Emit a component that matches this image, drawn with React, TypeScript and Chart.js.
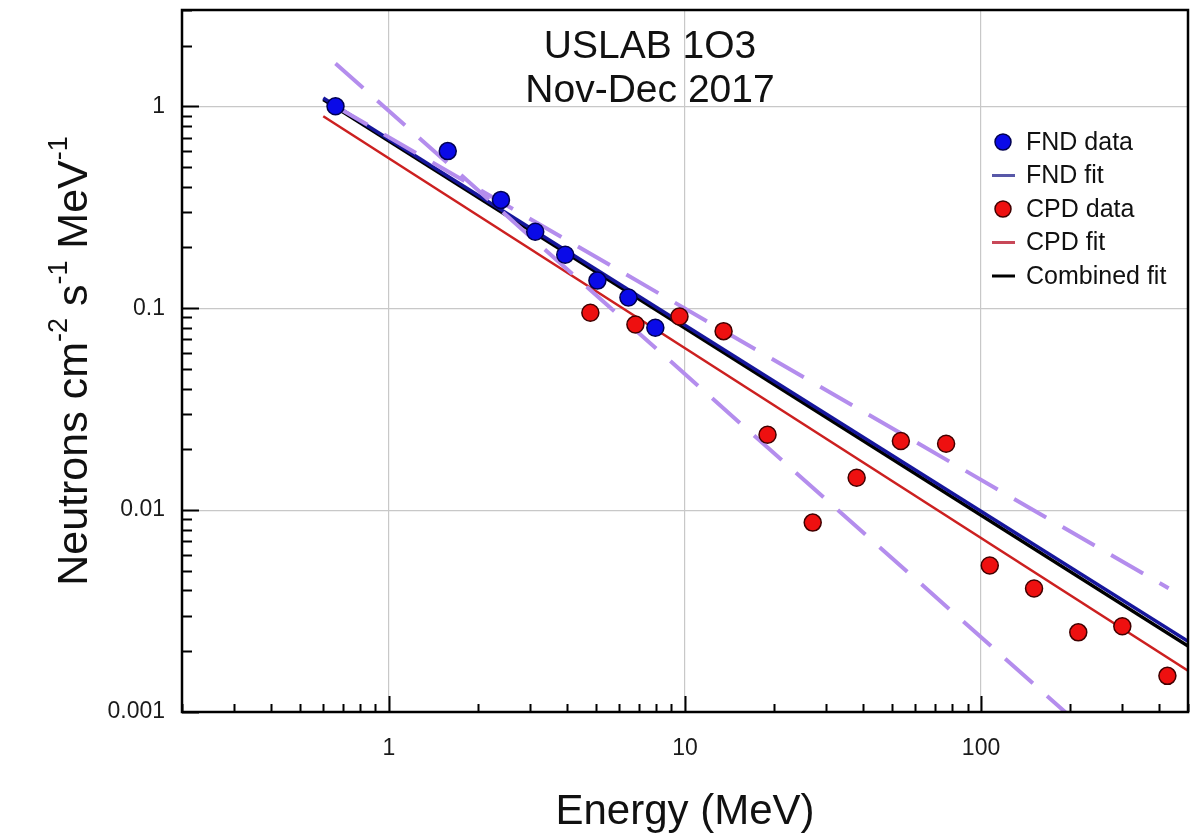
import React, { useEffect, useRef } from "react";
import { Chart, registerables } from "chart.js";

Chart.register(...registerables);

// ---- data ----
const fndEnergy = [0.66, 1.58, 2.39, 3.12, 3.94, 5.06, 6.44, 7.94];
const fndFlux = [1.0, 0.6, 0.344, 0.239, 0.184, 0.137, 0.113, 0.08];

const cpdEnergy = [4.79, 6.8, 9.58, 13.5, 19.0, 27.0, 38.0, 53.6, 76.2, 107, 151, 213, 300, 426];
const cpdFlux = [0.095, 0.083, 0.091, 0.077, 0.0236, 0.00867, 0.01445, 0.022, 0.0213, 0.00532, 0.00409, 0.00248, 0.00266, 0.00151];

const fitEnergy = [0.6, 500];
const fndFit = [1.1, 0.00224];
const cpdFit = [0.893, 0.0016];
const combinedFit = [1.08, 0.00212];

const upperBoundEnergy = [0.66, 430];
const upperBound = [1.0, 0.0041];
const lowerBoundEnergy = [0.66, 200];
const lowerBound = [1.63, 0.00095];

const xTickValues = [0.2, 0.3, 0.4, 0.5, 0.6, 0.7, 0.8, 0.9, 1, 2, 3, 4, 5, 6, 7, 8, 9, 10, 20, 30, 40, 50, 60, 70, 80, 90, 100, 200, 300, 400, 500];
const yTickValues = [0.001, 0.002, 0.003, 0.004, 0.005, 0.006, 0.007, 0.008, 0.009, 0.01, 0.02, 0.03, 0.04, 0.05, 0.06, 0.07, 0.08, 0.09, 0.1, 0.2, 0.3, 0.4, 0.5, 0.6, 0.7, 0.8, 0.9, 1, 2, 3];

const titleLines = ["USLAB 1O3", "Nov-Dec 2017"];
const xAxisTitle = "Energy (MeV)";
const yAxisTitleParts = [
  { t: "Neutrons cm", sup: false },
  { t: "-2", sup: true },
  { t: " s", sup: false },
  { t: "-1", sup: true },
  { t: " MeV", sup: false },
  { t: "-1", sup: true },
];
const legendItems = [
  { label: "FND data", kind: "point", color: "#0a0ae8", border: "#000050" },
  { label: "FND fit", kind: "line", color: "#5858a8" },
  { label: "CPD data", kind: "point", color: "#ee1010", border: "#400000" },
  { label: "CPD fit", kind: "line", color: "#c84858" },
  { label: "Combined fit", kind: "line", color: "#000000" },
];

const FONT = '"Liberation Sans", Arial, sans-serif';

const isMajor = (v: number) => {
  if (v === undefined || v === null || v <= 0) return false;
  const l = Math.log10(v);
  return Math.abs(l - Math.round(l)) < 1e-9;
};

const toXY = (xs: number[], ys: number[]) => xs.map((x, i) => ({ x, y: ys[i] }));

const zeroPad = (s: any) => {
  s.paddingTop = 0;
  s.paddingBottom = 0;
  s.paddingLeft = 0;
  s.paddingRight = 0;
};

const decorPlugin = {
  id: "decor",
  afterDraw(chart: any) {
    const { ctx, chartArea: a, scales } = chart;
    const xs = scales.x;
    const ys = scales.y;
    ctx.save();

    // inside tick marks
    ctx.strokeStyle = "#000";
    ctx.lineWidth = 2;
    ctx.beginPath();
    for (const v of xTickValues) {
      const x = Math.round(xs.getPixelForValue(v)) + 0.5;
      const len = isMajor(v) ? 16 : 8;
      ctx.moveTo(x, a.bottom);
      ctx.lineTo(x, a.bottom - len);
    }
    for (const v of yTickValues) {
      const y = Math.round(ys.getPixelForValue(v)) + 0.5;
      const len = isMajor(v) ? 17 : 10;
      ctx.moveTo(a.left, y);
      ctx.lineTo(a.left + len, y);
    }
    ctx.stroke();

    // frame
    ctx.lineWidth = 2.5;
    ctx.strokeRect(a.left, a.top, a.right - a.left, a.bottom - a.top);

    // title inside plot
    ctx.fillStyle = "#111";
    ctx.font = `39px ${FONT}`;
    ctx.textAlign = "center";
    ctx.textBaseline = "alphabetic";
    ctx.fillText(titleLines[0], a.left + 468, a.top + 48);
    ctx.fillText(titleLines[1], a.left + 468, a.top + 92);

    // legend
    ctx.font = `25px ${FONT}`;
    ctx.textAlign = "left";
    ctx.textBaseline = "middle";
    legendItems.forEach((it, i) => {
      const y = a.top + 132 + i * 33.5;
      const sx = a.right - 185;
      if (it.kind === "point") {
        ctx.beginPath();
        ctx.arc(sx, y, 8, 0, Math.PI * 2);
        ctx.fillStyle = it.color;
        ctx.fill();
        ctx.lineWidth = 1.5;
        ctx.strokeStyle = it.border;
        ctx.stroke();
      } else {
        ctx.beginPath();
        ctx.moveTo(sx - 11, y);
        ctx.lineTo(sx + 12, y);
        ctx.lineWidth = 3;
        ctx.strokeStyle = it.color;
        ctx.stroke();
      }
      ctx.fillStyle = "#111";
      ctx.fillText(it.label, a.right - 162, y + 1);
    });

    // x axis title
    ctx.font = `42px ${FONT}`;
    ctx.textAlign = "center";
    ctx.textBaseline = "alphabetic";
    ctx.fillStyle = "#111";
    ctx.fillText(xAxisTitle, (a.left + a.right) / 2, 824);

    // y axis title with superscripts
    const mainFont = `43px ${FONT}`;
    const supFont = `27px ${FONT}`;
    let total = 0;
    const widths = yAxisTitleParts.map((p) => {
      ctx.font = p.sup ? supFont : mainFont;
      const w = ctx.measureText(p.t).width;
      total += w;
      return w;
    });
    ctx.translate(87, (a.top + a.bottom) / 2);
    ctx.rotate(-Math.PI / 2);
    ctx.textAlign = "left";
    let cx = -total / 2;
    yAxisTitleParts.forEach((p, i) => {
      ctx.font = p.sup ? supFont : mainFont;
      ctx.fillText(p.t, cx, p.sup ? -20 : 0);
      cx += widths[i];
    });

    ctx.restore();
  },
};

export default function App() {
  const ref = useRef<HTMLCanvasElement | null>(null);

  useEffect(() => {
    if (!ref.current) return;
    const lineDs = (label: string, xs: number[], ys: number[], color: string, width: number, order: number, dash?: number[]) => ({
      label,
      data: toXY(xs, ys),
      showLine: true,
      borderColor: color,
      backgroundColor: color,
      borderWidth: width,
      borderDash: dash || [],
      pointRadius: 0,
      pointHoverRadius: 0,
      order,
    });
    const chart = new Chart(ref.current, {
      type: "scatter",
      data: {
        datasets: [
          {
            label: "FND data",
            data: toXY(fndEnergy, fndFlux),
            backgroundColor: "#0a0ae8",
            borderColor: "#000050",
            borderWidth: 1.5,
            pointRadius: 8.5,
            showLine: false,
            order: 0,
          },
          {
            label: "CPD data",
            data: toXY(cpdEnergy, cpdFlux),
            backgroundColor: "#ee1010",
            borderColor: "#400000",
            borderWidth: 1.5,
            pointRadius: 8.5,
            showLine: false,
            order: 0,
          },
          lineDs("Upper bound", upperBoundEnergy, upperBound, "#b48ded", 4, 1, [37, 19]),
          lineDs("Lower bound", lowerBoundEnergy, lowerBound, "#b48ded", 4, 1, [37, 19]),
          lineDs("FND fit", fitEnergy, fndFit, "#16169c", 3.5, 2),
          lineDs("Combined fit", fitEnergy, combinedFit, "#000000", 3.5, 3),
          lineDs("CPD fit", fitEnergy, cpdFit, "#cc2020", 2.5, 4),
        ],
      },
      options: {
        responsive: false,
        animation: false,
        layout: { padding: { left: 0, right: 12, top: 5, bottom: 0 } },
        plugins: { legend: { display: false }, tooltip: { enabled: false } },
        scales: {
          x: {
            type: "logarithmic",
            min: 0.2,
            max: 500,
            afterBuildTicks: (s: any) => {
              s.ticks = xTickValues.map((v) => ({ value: v }));
            },
            afterFit: (s: any) => {
              s.height = 122;
              zeroPad(s);
            },
            border: { display: false },
            grid: {
              drawTicks: false,
              lineWidth: 1.2,
              color: (c: any) => (isMajor(c.tick && c.tick.value) ? "#c8c8c8" : "rgba(0,0,0,0)"),
            },
            ticks: {
              autoSkip: false,
              maxRotation: 0,
              padding: 23,
              color: "#1a1a1a",
              font: { family: FONT, size: 23 },
              callback: (v: any) => (isMajor(Number(v)) ? String(Number(v)) : ""),
            },
          },
          y: {
            type: "logarithmic",
            min: 0.001,
            max: 3,
            afterBuildTicks: (s: any) => {
              s.ticks = yTickValues.map((v) => ({ value: v }));
            },
            afterFit: (s: any) => {
              s.width = 182;
              zeroPad(s);
            },
            border: { display: false },
            grid: {
              drawTicks: false,
              lineWidth: 1.2,
              color: (c: any) => (isMajor(c.tick && c.tick.value) ? "#c8c8c8" : "rgba(0,0,0,0)"),
            },
            ticks: {
              autoSkip: false,
              padding: 17,
              color: "#1a1a1a",
              font: { family: FONT, size: 23 },
              callback: (v: any) => (isMajor(Number(v)) ? String(Number(v)) : ""),
            },
          },
        },
      },
      plugins: [decorPlugin],
    } as any);
    return () => chart.destroy();
  }, []);

  return (
    <div style={{ position: "absolute", left: 0, top: 0, width: 1200, height: 834, background: "#fff" }}>
      <canvas ref={ref} width={1200} height={834} style={{ display: "block" }} />
    </div>
  );
}
